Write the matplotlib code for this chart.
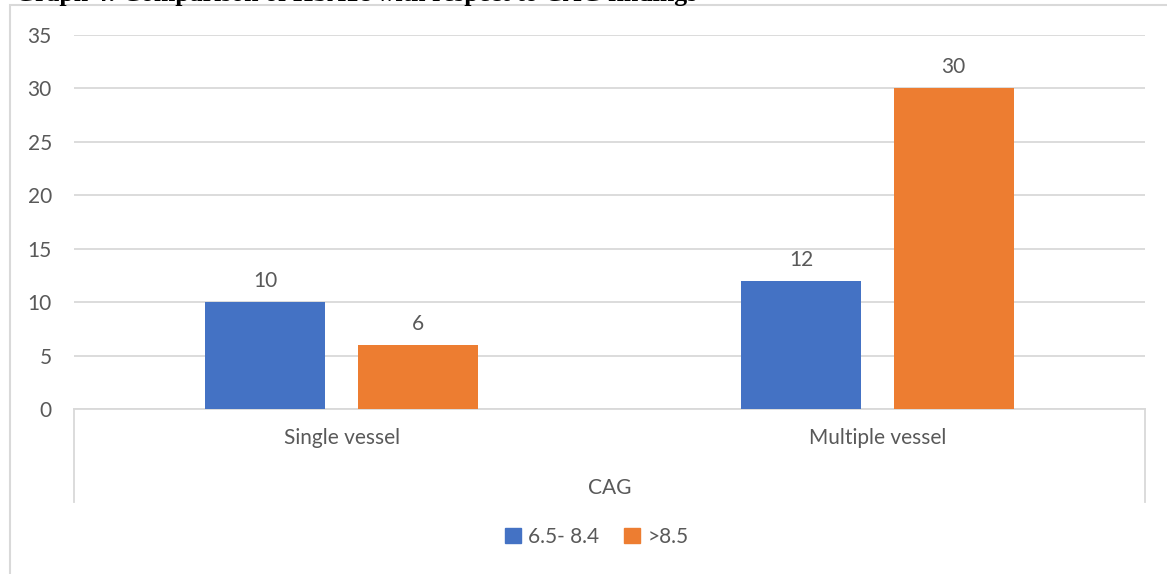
import matplotlib
matplotlib.use("Agg")
import matplotlib.pyplot as plt
from matplotlib.patches import Rectangle
import numpy as np

categories = ["Single vessel", "Multiple vessel"]
series_names = ["6.5- 8.4", ">8.5"]
series_values = [[10, 12], [6, 30]]
series_colors = ["#4472C4", "#ED7D31"]
y_ticks = [0, 5, 10, 15, 20, 25, 30, 35]
axis_title = "CAG"
caption = "Graph 4: Comparison of HbA1c with respect to CAG findings"

W, H = 1167, 574
fig = plt.figure(figsize=(W / 100, H / 100), dpi=100)
fig.patch.set_facecolor("white")

FONT = "Lato"
FS = 15
TXT = "#595959"
GRID = "#D9D9D9"

def fx(px):
    return px / W

def fy(py):
    return 1 - py / H

# chart frame
fig.patches.append(Rectangle((fx(10), -0.2), 1.5, fy(5) + 0.2, transform=fig.transFigure,
                             fill=False, edgecolor=GRID, linewidth=1.5, zorder=0))
# caption running off the top of the page
fig.text(fx(15), fy(1.5), caption, ha="left", va="baseline", family="Liberation Serif",
         weight="bold", fontsize=18.5, color="black")

left, right, top, bottom = 74, 1145, 35, 409
ax = fig.add_axes([fx(left), fy(bottom), fx(right) - fx(left), fy(top) - fy(bottom)])
ax.set_xlim(-0.5, len(categories) - 0.5)
ax.set_ylim(0, 35)

x = np.arange(len(categories))
width = 0.224
offsets = [-0.1425, 0.1425]
for vals, off, col, name in zip(series_values, offsets, series_colors, series_names):
    bars = ax.bar(x + off, vals, width, color=col, label=name, zorder=3)
    for b, v in zip(bars, vals):
        ax.text(b.get_x() + b.get_width() / 2, v + 1.05, f"{v}", ha="center", va="bottom",
                fontsize=FS, color=TXT, family=FONT)

ax.set_yticks(y_ticks)
ax.yaxis.grid(True, color=GRID, linewidth=1.3, zorder=0)
ax.tick_params(axis="y", length=0, pad=16, labelsize=FS, labelcolor=TXT)
for lbl in ax.get_yticklabels():
    lbl.set_family(FONT)
ax.set_xticks([])
for s in ["top", "right", "left"]:
    ax.spines[s].set_visible(False)
ax.spines["bottom"].set_color(GRID)
ax.spines["bottom"].set_linewidth(1.3)
ax.set_axisbelow(True)

# category separators below the axis
for xb in [-0.5, 1.5]:
    ax.plot([xb, xb], [0, -8.7], color=GRID, linewidth=1.3, clip_on=False, zorder=2)

for xi, cat in zip(x, categories):
    ax.text(xi, -2.75, cat, ha="center", va="center", fontsize=FS, color=TXT,
            family=FONT, clip_on=False)
ax.text(0.5, -7.4, axis_title, ha="center", va="center", fontsize=FS, color=TXT,
        family=FONT, clip_on=False)

handles = [Rectangle((0, 0), 1, 1, color=c) for c in series_colors]
leg = fig.legend(handles, series_names, loc="center", bbox_to_anchor=(fx(597), fy(537)),
                 ncol=2, frameon=False, handlelength=0.75, handleheight=0.75,
                 handletextpad=0.35, columnspacing=1.2,
                 prop={"family": FONT, "size": FS})
for t in leg.get_texts():
    t.set_color(TXT)

fig.savefig("out.png", dpi=100, facecolor="white")
